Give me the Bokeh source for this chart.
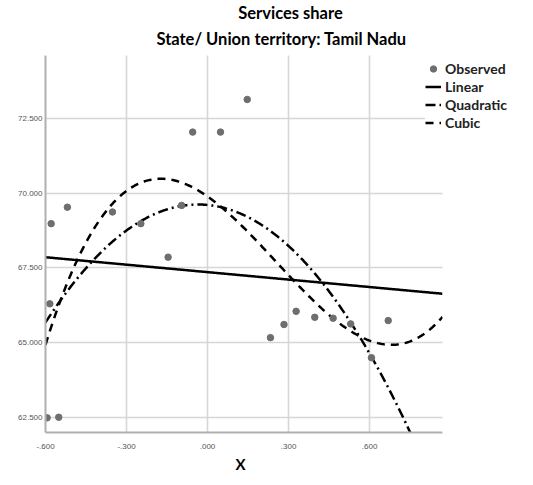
import numpy as np
from bokeh.plotting import figure
from bokeh.models import (Range1d, FixedTicker, CustomJSTickFormatter, Legend,
                          LegendItem, Label, BoxAnnotation, ColumnDataSource, Title)
from bokeh.embed import file_html
from bokeh.resources import INLINE

# ---- data ----
obs_x = [-0.594, -0.584, -0.579, -0.551, -0.519, -0.352, -0.247, -0.146, -0.096,
         -0.055, 0.048, 0.147, 0.233, 0.283, 0.328, 0.397, 0.465, 0.530, 0.607, 0.669]
obs_y = [62.49, 66.30, 68.98, 62.51, 69.53, 69.37, 68.98, 67.86, 69.59,
         72.04, 72.04, 73.13, 65.17, 65.61, 66.05, 65.85, 65.82, 65.63, 64.50, 65.74]

# fitted model coefficients (highest power first)
linear_coef = [-0.83, 67.36]
quadratic_coef = [-12.35, -0.8645, 69.605]
cubic_coef = [17.82, -13.579, -6.2983, 69.889]

x_ticks = [-0.6, -0.3, 0.0, 0.3, 0.6]
y_ticks = [62.5, 65.0, 67.5, 70.0, 72.5]
title_main = "Services share"
title_sub = "State/ Union territory: Tamil Nadu"
x_label = "X"
legend_labels = ["Observed", "Linear", "Quadratic", "Cubic"]

# visible plot region (data units)
X_MIN, X_MAX = -0.6, 0.87
Y_MIN, Y_MAX = 62.0, 74.6

# layout in pixels
W, H = 525, 477
LEFT, BOTTOM = 45, 45            # axis panels
PLOT_W_PX, PLOT_H_PX = 397, 377  # visible plot area
frame_w = W - LEFT
frame_h = H - BOTTOM
x_hi = X_MIN + frame_w * (X_MAX - X_MIN) / PLOT_W_PX
y_hi = Y_MIN + frame_h * (Y_MAX - Y_MIN) / PLOT_H_PX

p = figure(width=W, height=H, output_backend="svg", toolbar_location=None,
           x_range=Range1d(X_MIN, x_hi), y_range=Range1d(Y_MIN, y_hi),
           title=None, min_border_left=LEFT, min_border_right=0,
           min_border_top=0, min_border_bottom=BOTTOM)
p.outline_line_color = None
p.background_fill_color = "white"

# grid
for g in (p.xgrid, p.ygrid):
    g.grid_line_color = "#d6d6d6"
    g.grid_line_width = 1.6
p.xgrid.ticker = FixedTicker(ticks=x_ticks)
p.ygrid.ticker = FixedTicker(ticks=y_ticks)

# axes
fmt = CustomJSTickFormatter(code="""
    var s = tick.toFixed(3);
    return s.replace(/^(-?)0\\./, '$1.');
""")
p.xaxis.ticker = FixedTicker(ticks=x_ticks)
p.yaxis.ticker = FixedTicker(ticks=y_ticks)
p.xaxis.formatter = fmt
p.yaxis.formatter = fmt
p.xaxis.bounds = (X_MIN, X_MAX)
p.yaxis.bounds = (Y_MIN, Y_MAX)
for ax in (p.xaxis[0], p.yaxis[0]):
    ax.axis_line_color = "#b0b0b0"
    ax.axis_line_width = 2
    ax.major_tick_line_color = None
    ax.minor_tick_line_color = None
    ax.major_tick_out = 0
    ax.major_tick_in = 0
    ax.major_label_text_font = "Liberation Sans"
    ax.major_label_text_font_size = "8px"
    ax.major_label_text_color = "#555555"
p.yaxis.major_label_standoff = 3
p.xaxis.major_label_standoff = 11

# x-axis title, centred under the visible plot area
p.add_layout(Title(text=x_label, align="left", offset=190, standoff=3,
                   text_font="Lato", text_font_style="bold", text_font_size="15px",
                   text_color="black"), "below")

# curves
xs = np.linspace(X_MIN, X_MAX, 400)
src = ColumnDataSource(dict(x=xs,
                            lin=np.polyval(linear_coef, xs),
                            quad=np.polyval(quadratic_coef, xs),
                            cub=np.polyval(cubic_coef, xs)))
r_lin = p.line("x", "lin", source=src, line_color="black", line_width=2.5)
r_quad = p.line("x", "quad", source=src, line_color="black", line_width=2.5,
                line_dash="10 4 2 4")
r_cub = p.line("x", "cub", source=src, line_color="black", line_width=2.5,
               line_dash="8 6")
r_obs = p.scatter(obs_x, obs_y, size=6.5, marker="circle", fill_color="#6e6e6e",
                  line_color="#6e6e6e")

# white masks outside the visible plot area (hide grid beyond it)
p.add_layout(BoxAnnotation(left=X_MAX, fill_color="white", fill_alpha=1.0,
                           line_alpha=0))
p.add_layout(BoxAnnotation(bottom=Y_MAX, fill_color="white", fill_alpha=1.0,
                           line_alpha=0))

legend = Legend(items=[LegendItem(label=legend_labels[0], renderers=[r_obs]),
                       LegendItem(label=legend_labels[1], renderers=[r_lin]),
                       LegendItem(label=legend_labels[2], renderers=[r_quad]),
                       LegendItem(label=legend_labels[3], renderers=[r_cub])],
                location=(380, 301))
legend.background_fill_color = "white"
legend.background_fill_alpha = 1.0
legend.border_line_color = None
legend.padding = 4
legend.margin = 0
legend.spacing = 1
legend.glyph_width = 16
legend.glyph_height = 17
legend.label_height = 17
legend.label_standoff = 4
legend.label_text_font = "Lato"
legend.label_text_font_style = "bold"
legend.label_text_font_size = "14px"
legend.label_text_color = "#222222"
p.add_layout(legend)

# titles
p.add_layout(Label(x=245, y=420, x_units="screen", y_units="screen", text=title_main,
                   text_align="center", text_baseline="middle", text_font="Lato",
                   text_font_style="bold", text_font_size="16.5px", text_color="black"))
p.add_layout(Label(x=236, y=394, x_units="screen", y_units="screen", text=title_sub,
                   text_align="center", text_baseline="middle", text_font="Lato",
                   text_font_style="bold", text_font_size="16.5px", text_color="black"))

open("out.html", "w").write(file_html(p, INLINE))
